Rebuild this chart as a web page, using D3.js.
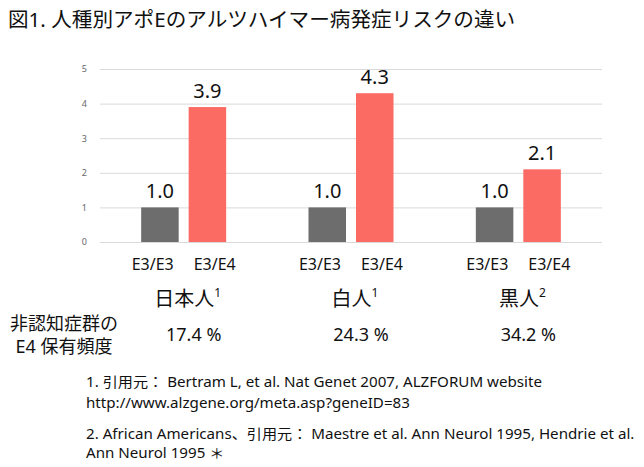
<!DOCTYPE html>
<html>
<head>
<meta charset="utf-8">
<script src="https://cdn.jsdelivr.net/npm/d3@7"></script>
<style>
  body { margin: 0; background: #fff; }
  svg { display: block; font-family: "Noto Sans", "Noto Sans CJK JP", sans-serif; }
</style>
</head>
<body>
<svg id="chart"></svg>
<script>
// data
const groups = ["日本人", "白人", "黒人"];
const groupNotes = ["1", "1", "2"];
const genotypes = ["E3/E3", "E3/E4"];
const riskE3E3 = [1.0, 1.0, 1.0];
const riskE3E4 = [3.9, 4.3, 2.1];
const carrierFreq = ["17.4 %", "24.3 %", "34.2 %"];
const yTicks = [0, 1, 2, 3, 4, 5];
const title = "図1. 人種別アポEのアルツハイマー病発症リスクの違い";
const rowLabel = ["非認知症群の", "E4 保有頻度"];
const footnotes = [
    "1. 引用元： Bertram L, et al. Nat Genet 2007, ALZFORUM website",
    "http://www.alzgene.org/meta.asp?geneID=83",
    "2. African Americans、引用元： Maestre et al. Ann Neurol 1995, Hendrie  et al.",
    "Ann Neurol 1995 ＊"
];

// TODO: config
const width = 644;
const height = 467;
const plotLeft = 100;
const plotRight = 602;
const plotBottom = 242;
const plotTop = 69;
const colors = ["#6d6d6d", "#fb6a63"];

const svg = d3.select("#chart")
    .attr("width", width)
    .attr("height", height);

const x = d3.scaleBand().domain(groups).range([plotLeft, plotRight]).padding(0);
const y = d3.scaleLinear().domain([0, 5]).range([plotBottom, plotTop]);

const center = g => x(g) + x.bandwidth() / 2;
// bars sit in an 85px slot around the group centre
const xInner = g => d3.scaleBand().domain(genotypes)
    .range([center(g) - 42.5, center(g) + 42.5]).paddingInner(0.21);
// the genotype labels are spread a bit wider than the bars
const xLabel = g => d3.scaleBand().domain(genotypes)
    .range([center(g) - 62, center(g) + 62]);

const data = groups.map((g, i) => ({
    group: g,
    bars: genotypes.map((k, j) => ({ group: g, key: k, value: [riskE3E3[i], riskE3E4[i]][j], idx: j }))
}));

// title
svg.append("text")
    .attr("x", 8)
    .attr("y", 27)
    .attr("font-size", 20.6)
    .attr("fill", "#111")
    .text(title);

// ############# axis / grid #############
const axis = svg.append("g")
    .attr("transform", `translate(${plotLeft},0)`)
    .call(d3.axisLeft(y)
        .tickValues(yTicks)
        .tickFormat(d3.format("d"))
        .tickSize(-(plotRight - plotLeft))
        .tickPadding(13));
axis.select(".domain").remove();
axis.selectAll(".tick line").attr("stroke", "#d9d9d9");
axis.selectAll(".tick text")
    .attr("fill", "#666")
    .attr("font-size", 9)
    .attr("font-family", "Noto Sans, sans-serif");

// ############# bars #############
const barGroup = svg.selectAll(".barGroup")
    .data(data)
    .enter().append("g")
    .attr("class", "barGroup");

barGroup.selectAll("rect")
    .data(d => d.bars)
    .enter().append("rect")
    .attr("x", d => xInner(d.group)(d.key))
    .attr("width", d => xInner(d.group).bandwidth())
    .attr("y", d => y(d.value))
    .attr("height", d => y(0) - y(d.value))
    .attr("fill", d => colors[d.idx]);

barGroup.selectAll(".value")
    .data(d => d.bars)
    .enter().append("text")
    .attr("class", "value")
    .attr("x", d => xInner(d.group)(d.key) + xInner(d.group).bandwidth() / 2)
    .attr("y", d => y(d.value) - 9)
    .attr("text-anchor", "middle")
    .attr("font-size", 20)
    .attr("fill", "#111")
    .text(d => d.value.toFixed(1));

barGroup.selectAll(".cat")
    .data(d => d.bars)
    .enter().append("text")
    .attr("class", "cat")
    .attr("x", d => xLabel(d.group)(d.key) + xLabel(d.group).bandwidth() / 2)
    .attr("y", 270)
    .attr("text-anchor", "middle")
    .attr("font-size", 16)
    .attr("fill", "#111")
    .text(d => d.key);

// ############# group names #############
const groupName = svg.selectAll(".groupName")
    .data(groups)
    .enter().append("text")
    .attr("class", "groupName")
    .attr("x", g => center(g) + 4)
    .attr("y", 306)
    .attr("text-anchor", "middle")
    .attr("font-size", 20)
    .attr("fill", "#111");
groupName.append("tspan").text(g => g);
groupName.append("tspan")
    .attr("font-size", 12)
    .attr("dy", -9)
    .text((g, i) => groupNotes[i]);

svg.selectAll(".freq")
    .data(groups)
    .enter().append("text")
    .attr("class", "freq")
    .attr("x", g => center(g) + 10)
    .attr("y", 341)
    .attr("text-anchor", "middle")
    .attr("font-size", 18)
    .attr("fill", "#111")
    .text((g, i) => carrierFreq[i]);

svg.selectAll(".rowLabel")
    .data(rowLabel)
    .enter().append("text")
    .attr("class", "rowLabel")
    .attr("x", 64)
    .attr("y", (d, i) => 330 + i * 23)
    .attr("text-anchor", "middle")
    .attr("font-size", 18)
    .attr("fill", "#111")
    .text(d => d);

// ############# footnotes #############
const noteY = [387, 408, 439, 458];
const notes = svg.selectAll(".note")
    .data(footnotes)
    .enter().append("text")
    .attr("class", "note")
    .attr("x", 86)
    .attr("y", (d, i) => noteY[i])
    .attr("font-size", 14)
    .attr("fill", "#111")
    .text(d => d);

// squeeze to the narrower original face, same ratio for every line
const natural = notes.nodes().map(n => n.getComputedTextLength());
const ratio = 456 / natural[0];
notes.attr("textLength", (d, i) => natural[i] * ratio)
    .attr("lengthAdjust", "spacingAndGlyphs");
</script>
</body>
</html>
